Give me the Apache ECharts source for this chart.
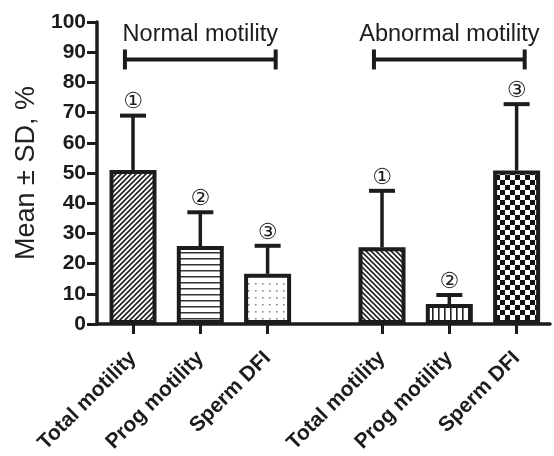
<!DOCTYPE html>
<html>
<head>
<meta charset="utf-8">
<script src="https://cdn.jsdelivr.net/npm/echarts@6/dist/echarts.min.js"></script>
<style>html,body{margin:0;padding:0;background:#fff}#chart{width:554px;height:456px}</style>
</head>
<body>
<div id="chart"></div>
<script>
// ---- data ----
const categories = ['Total motility', 'Prog motility', 'Sperm DFI'];
const groupNames = ['Normal motility', 'Abnormal motility'];
const normalMean = [51, 25.8, 16.6];
const normalSD = [18, 11.2, 9.3];
const abnormalMean = [25.4, 6.6, 50.8];
const abnormalSD = [18.7, 3, 22];
const markers = ['\u2460', '\u2461', '\u2462'];
const yMin = 0, yMax = 100, yStep = 10;

// ---- layout (not data) ----
const groupStride = 3.7;
const bracketLevel = 87.6;
const groupLabelLevel = 96;
const bracketHalf = 1.12;
const pos = (g, i) => +(1 + i + g * groupStride).toFixed(4);
const ink = '#1c1c1c';

function makePattern(kind) {
  const c = document.createElement('canvas');
  const ctx = c.getContext('2d');
  if (kind === 'diagUp' || kind === 'diagDown') {
    const s = 5; c.width = s; c.height = s;
    ctx.fillStyle = '#fff'; ctx.fillRect(0, 0, s, s);
    ctx.strokeStyle = '#222'; ctx.lineWidth = 1.6;
    const segs = kind === 'diagUp'
      ? [[-1, s + 1, s + 1, -1], [-1, 1, 1, -1], [s - 1, s + 1, s + 1, s - 1]]
      : [[-1, -1, s + 1, s + 1], [-1, s - 1, 1, s + 1], [s - 1, -1, s + 1, 1]];
    segs.forEach(([a, b, d, e]) => { ctx.beginPath(); ctx.moveTo(a, b); ctx.lineTo(d, e); ctx.stroke(); });
  } else if (kind === 'horiz') {
    c.width = 4; c.height = 6;
    ctx.fillStyle = '#fff'; ctx.fillRect(0, 0, 4, 6);
    ctx.fillStyle = '#333'; ctx.fillRect(0, 0, 4, 1.5);
  } else if (kind === 'vert') {
    c.width = 6; c.height = 4;
    ctx.fillStyle = '#fff'; ctx.fillRect(0, 0, 6, 4);
    ctx.fillStyle = '#222'; ctx.fillRect(0, 0, 1.6, 4);
  } else if (kind === 'dots') {
    c.width = 7; c.height = 7;
    ctx.fillStyle = '#fff'; ctx.fillRect(0, 0, 7, 7);
    ctx.fillStyle = '#888'; ctx.fillRect(3, 3, 1.6, 1.6);
  } else if (kind === 'check') {
    c.width = 10; c.height = 10;
    ctx.fillStyle = '#fff'; ctx.fillRect(0, 0, 10, 10);
    ctx.fillStyle = '#111'; ctx.fillRect(0, 0, 5, 5); ctx.fillRect(5, 5, 5, 5);
  }
  return { image: c, repeat: 'repeat' };
}
const patterns = [
  ['diagUp', 'horiz', 'dots'],
  ['diagDown', 'vert', 'check']
];

const means = [normalMean, abnormalMean];
const sds = [normalSD, abnormalSD];
const positions = [];
const barData = [];
const errData = [];
means.forEach((arr, g) => {
  arr.forEach((m, i) => {
    const x = pos(g, i);
    positions.push(x);
    barData.push({ value: [x, m], itemStyle: { color: makePattern(patterns[g][i]) } });
    errData.push([x, m, sds[g][i], i]);
  });
});
const bracketData = groupNames.map((name, g) => [pos(g, 1) - bracketHalf, pos(g, 1) + bracketHalf, g]);

function labelFor(v) {
  const k = positions.findIndex(p => Math.abs(p - v) < 1e-6);
  return k < 0 ? '' : categories[k % categories.length];
}

const chart = echarts.init(document.getElementById('chart'), null, { renderer: 'canvas' });
chart.setOption({
  animation: false,
  backgroundColor: '#fff',
  grid: { left: 97, right: 4, top: 22, bottom: 132, containLabel: false },
  xAxis: {
    type: 'value',
    min: 0.465,
    max: 7.196,
    splitLine: { show: false },
    axisLine: { show: true, onZero: false, lineStyle: { color: ink, width: 3.5 } },
    axisTick: { show: true, customValues: positions, length: 10, lineStyle: { color: ink, width: 3 } },
    axisLabel: {
      customValues: positions,
      formatter: labelFor,
      rotate: 45,
      margin: 31,
      fontFamily: 'Liberation Sans, Arial, sans-serif',
      fontWeight: 'bold',
      fontSize: 21,
      color: ink
    }
  },
  yAxis: {
    type: 'value',
    min: yMin, max: yMax, interval: yStep,
    name: 'Mean \u00b1 SD, %',
    nameLocation: 'middle',
    nameGap: 43,
    nameTextStyle: { fontFamily: 'Liberation Sans, Arial, sans-serif', fontSize: 27, color: '#222' },
    splitLine: { show: false },
    axisLine: { show: true, lineStyle: { color: ink, width: 3.5 } },
    axisTick: { show: true, length: 10, lineStyle: { color: ink, width: 3 } },
    axisLabel: {
      margin: 11,
      fontFamily: 'Liberation Sans, Arial, sans-serif',
      fontWeight: 'bold',
      fontSize: 21,
      color: ink
    }
  },
  series: [
    {
      type: 'bar',
      data: barData,
      barWidth: 47,
      itemStyle: { borderColor: ink, borderWidth: 4 },
      z: 2
    },
    {
      type: 'custom',
      data: errData,
      encode: { x: 0, y: 1 },
      clip: false,
      z: 3,
      renderItem: function (params, api) {
        const x = api.value(0), m = api.value(1), sd = api.value(2), idx = api.value(3);
        const p0 = api.coord([x, m]);
        const p1 = api.coord([x, m + sd]);
        return {
          type: 'group',
          children: [
            { type: 'line', shape: { x1: p0[0], y1: p0[1], x2: p1[0], y2: p1[1] }, style: { stroke: ink, lineWidth: 3.5 } },
            { type: 'line', shape: { x1: p1[0] - 13, y1: p1[1], x2: p1[0] + 13, y2: p1[1] }, style: { stroke: ink, lineWidth: 4 } },
            { type: 'text', x: p1[0], y: p1[1] - 13, style: { text: markers[idx], fontFamily: 'DejaVu Sans', fontSize: 22, fill: ink, align: 'center', verticalAlign: 'middle' } }
          ]
        };
      }
    },
    {
      type: 'custom',
      data: bracketData,
      encode: { x: [0, 1] },
      clip: false,
      z: 3,
      renderItem: function (params, api) {
        const a = api.coord([api.value(0), bracketLevel]);
        const b = api.coord([api.value(1), bracketLevel]);
        const t = api.coord([(api.value(0) + api.value(1)) / 2, groupLabelLevel]);
        return {
          type: 'group',
          children: [
            { type: 'line', shape: { x1: a[0], y1: a[1], x2: b[0], y2: b[1] }, style: { stroke: ink, lineWidth: 4 } },
            { type: 'line', shape: { x1: a[0], y1: a[1] - 10, x2: a[0], y2: a[1] + 10 }, style: { stroke: ink, lineWidth: 4 } },
            { type: 'line', shape: { x1: b[0], y1: b[1] - 10, x2: b[0], y2: b[1] + 10 }, style: { stroke: ink, lineWidth: 4 } },
            { type: 'text', x: t[0], y: t[1], style: { text: groupNames[api.value(2)], fontFamily: 'Liberation Sans, Arial, sans-serif', fontSize: 23.5, fill: ink, align: 'center', verticalAlign: 'middle' } }
          ]
        };
      }
    }
  ]
});
</script>
</body>
</html>
